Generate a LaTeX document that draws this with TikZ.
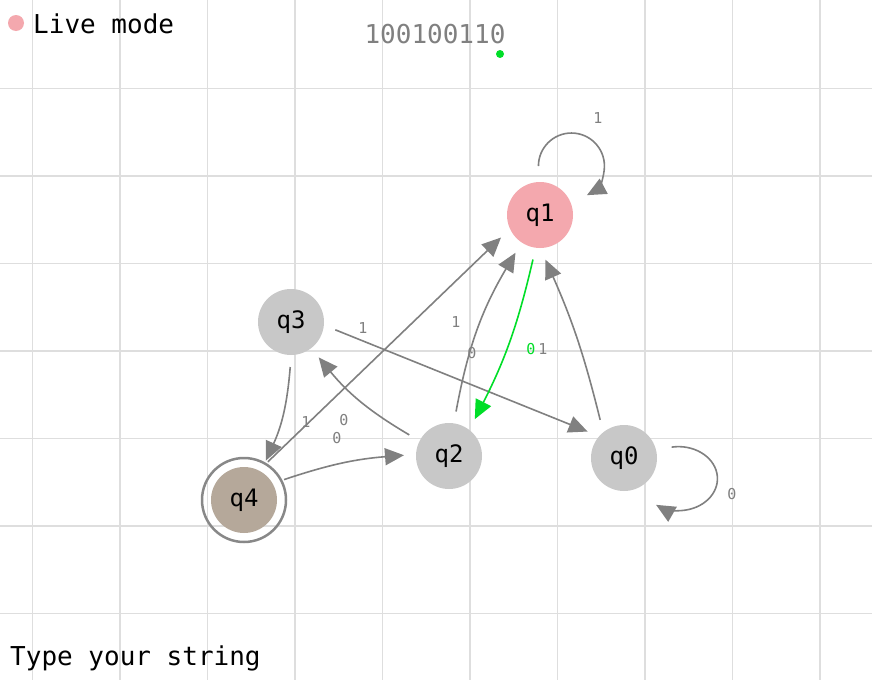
\documentclass[tikz,border=0pt]{standalone}
\usepackage{fontspec}
\usepackage{xcolor}
\usepackage{tikz}
\usetikzlibrary{arrows.meta}
\newfontfamily\pixfont{DejaVu Sans Mono}
\newcommand{\pixbig}{\pixfont\fontsize{26pt}{28pt}\selectfont}
\newcommand{\pixstate}{\pixfont\fontsize{24pt}{26pt}\selectfont}
\newcommand{\pixsmall}{\pixfont\fontsize{15pt}{17pt}\selectfont}
\definecolor{GridGray}{RGB}{222,222,222}
\definecolor{EdgeGray}{RGB}{128,128,128}
\definecolor{StateGray}{RGB}{200,200,200}
\definecolor{LivePink}{RGB}{244,168,174}
\definecolor{FinalTaupe}{RGB}{181,168,154}
\definecolor{RingGray}{RGB}{136,136,136}
\definecolor{TraceGreen}{RGB}{0,222,40}
\tikzset{
  gridline/.style={GridGray, line width=1.6pt},
  state/.style={circle, minimum size=66pt, inner sep=0pt, outer sep=12pt, fill=StateGray, font=\pixstate},
  livestate/.style={state, fill=LivePink},
  finalstate/.style={state, fill=FinalTaupe},
  ring/.style={draw=RingGray, line width=2.5pt},
  edge/.style={-{Triangle[length=19pt,width=17pt]}, line width=1.6pt, EdgeGray},
  liveedge/.style={edge, TraceGreen},
  elabel/.style={font=\pixsmall, text=EdgeGray, inner sep=0pt},
  uitext/.style={font=\pixbig, inner sep=0pt},
  dot/.style={circle, inner sep=0pt, draw=none},
}

\begin{document}
\begin{tikzpicture}[x=1pt, y=-1pt]
  \useasboundingbox (0,0) rectangle (872,680);
  \fill[white] (0,0) rectangle (872,680);
  % background grid
  \foreach \i in {0,...,9}
    {\draw[gridline] (32.5+87.5*\i,0) -- (32.5+87.5*\i,680);}
  \foreach \j in {0,...,6}
    {\draw[gridline] (0,88.5+87.5*\j) -- (872,88.5+87.5*\j);}

  \node[dot, fill=LivePink, minimum size=16pt] (livedot) at (16,23) {};
  \node[uitext, anchor=west] (livetxt) at (33,24) {Live mode};
  \node[uitext, text=EdgeGray] (tape) at (435,34) {100100110};
  \node[dot, fill=TraceGreen, minimum size=8pt] (head) at (500,54) {};
  \node[uitext, anchor=base west] (prompt) at (10,665) {Type your string};

  % states
  \node[livestate] (q1) at (540,215) {q1};
  \node[state] (q3) at (291,322) {q3};
  \node[state] (q2) at (449,456) {q2};
  \node[state] (q0) at (624,458) {q0};
  \node[finalstate] (q4) at (244,500) {q4};
  \draw[ring] (q4.center) circle[radius=42pt];

  % transitions
  \draw[edge] ([yshift=4pt]q1.92) arc[start angle=180, end angle=-62, radius=33pt];
  \draw[edge] ([xshift=4pt]q0.14) arc[start angle=100, end angle=-125, x radius=39pt, y radius=32pt];
  \draw[edge] (q4.58) -- (q1.210);
  \draw[edge] (q3.-10) -- (q0.144);
  \draw[edge] (q2.81) to[bend left=10] (q1.237);
  \draw[liveedge] (q1.261) to[bend left=7] (q2.55);
  \draw[edge] (q0.122) to[bend right=5] (q1.277);
  \draw[edge] (q2.152) to[bend left=10] (q3.-52);
  \draw[edge] (q3.269) to[bend left=10] (q4.61);
  \draw[edge] (q4.27) to[bend left=7] (q2.179);

  % labels
  \node[elabel] (l11) at (598,118) {1};
  \node[elabel] (l00) at (732,494) {0};
  \node[elabel] (l30) at (363,328) {1};
  \node[elabel] (l41) at (456,322) {1};
  \node[elabel] (l21) at (472,353) {0};
  \node[elabel, text=TraceGreen] (l12) at (531,349) {0};
  \node[elabel] (l01) at (543,349) {1};
  \node[elabel] (l34) at (306,422) {1};
  \node[elabel] (l23) at (344,420) {0};
  \node[elabel] (l42) at (337,438) {0};
\end{tikzpicture}
\end{document}
